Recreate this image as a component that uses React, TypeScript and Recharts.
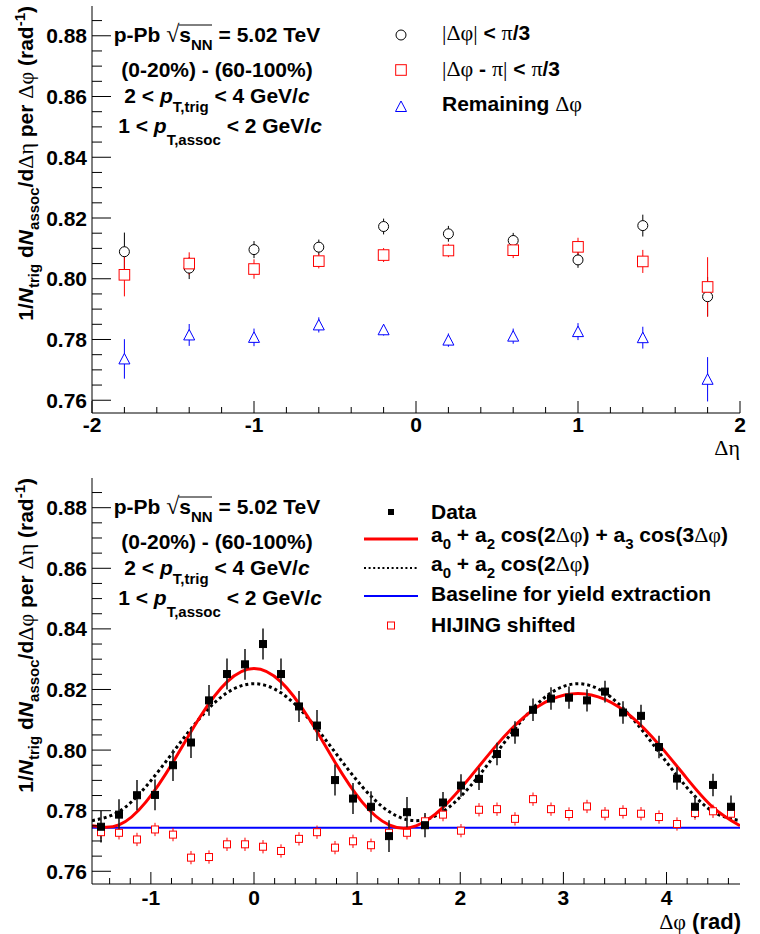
import React from 'react';
import { ComposedChart, Scatter, Line, XAxis, YAxis, ErrorBar, ReferenceLine } from 'recharts';

// ---------------- Top panel: per Δη bin ----------------
const etaCenters = [-1.8, -1.4, -1.0, -0.6, -0.2, 0.2, 0.6, 1.0, 1.4, 1.8];
const nearSideValues = [0.8089, 0.8035, 0.8096, 0.8104, 0.8172, 0.8148, 0.8126, 0.8062, 0.8175, 0.7941];
const nearSideErrors = [0.0063, 0.0036, 0.0028, 0.0025, 0.0026, 0.0026, 0.0025, 0.0026, 0.0036, 0.0065];
const awaySideValues = [0.8013, 0.805, 0.8032, 0.8058, 0.8078, 0.8093, 0.8094, 0.8105, 0.8057, 0.7973];
const awaySideErrors = [0.0071, 0.0037, 0.0032, 0.0024, 0.0023, 0.0022, 0.0026, 0.003, 0.0038, 0.0098];
const remainingValues = [0.7736, 0.7815, 0.7807, 0.7848, 0.7832, 0.7798, 0.7811, 0.7826, 0.7806, 0.7669];
const remainingErrors = [0.0065, 0.0036, 0.0029, 0.0025, 0.0019, 0.0022, 0.0025, 0.0028, 0.0036, 0.0073];

// ---------------- Bottom panel: per Δφ bin ----------------
const phiCenters = [
  -1.4835, -1.309, -1.1345, -0.9599, -0.7854, -0.6109, -0.4363, -0.2618, -0.0873, 0.0873, 0.2618, 0.4363,
  0.6109, 0.7854, 0.9599, 1.1345, 1.309, 1.4835, 1.6581, 1.8326, 2.0071, 2.1817, 2.3562, 2.5307,
  2.7053, 2.8798, 3.0543, 3.2289, 3.4034, 3.5779, 3.7525, 3.927, 4.1015, 4.2761, 4.4506, 4.6251,
];
const dataValues = [
  0.7747, 0.7787, 0.7851, 0.7852, 0.795, 0.8025, 0.8164, 0.8251, 0.8283, 0.835, 0.8251, 0.8144,
  0.8081, 0.7901, 0.784, 0.7813, 0.7716, 0.7795, 0.7752, 0.7827, 0.7883, 0.7905, 0.7987, 0.8058,
  0.8133, 0.817, 0.8173, 0.8164, 0.8193, 0.8124, 0.8113, 0.801, 0.7906, 0.7813, 0.7885, 0.7813,
];
const dataErrors = [
  0.0052, 0.0051, 0.005, 0.0051, 0.0052, 0.0051, 0.0051, 0.0051, 0.0051, 0.0051, 0.0051, 0.0051,
  0.0051, 0.0051, 0.0051, 0.0051, 0.0052, 0.005, 0.004, 0.0035, 0.0037, 0.0037, 0.0037, 0.0037,
  0.0037, 0.0037, 0.0037, 0.0037, 0.0036, 0.0037, 0.0037, 0.0037, 0.0037, 0.0037, 0.0037, 0.0037,
];
const hijingValues = [
  0.7729, 0.7727, 0.7705, 0.7738, 0.7721, 0.7645, 0.7647, 0.7689, 0.7689, 0.7681, 0.7667, 0.7707,
  0.7729, 0.7678, 0.7699, 0.7686, 0.7727, 0.7727, 0.7765, 0.7787, 0.7734, 0.7803, 0.7805, 0.7773,
  0.7838, 0.7805, 0.7789, 0.7814, 0.779, 0.7796, 0.779, 0.7779, 0.7756, 0.7792, 0.7798, 0.779,
];
const hijingErrors = [
  0.0022, 0.0022, 0.0022, 0.0022, 0.0022, 0.0022, 0.0022, 0.0022, 0.0022, 0.0022, 0.0022, 0.0022,
  0.0022, 0.0022, 0.0022, 0.0022, 0.0022, 0.0022, 0.0022, 0.0022, 0.0022, 0.0022, 0.0022, 0.0022,
  0.0022, 0.0022, 0.0022, 0.0022, 0.0022, 0.0022, 0.0022, 0.0022, 0.0022, 0.0022, 0.0022, 0.0022,
];

// fit curves
const fitPhi = [
  -1.5708, -1.309, -1.0472, -0.7854, -0.5236, -0.2618, 0, 0.2618, 0.5236, 0.7854, 1.0472, 1.309, 1.5708,
  1.8326, 2.0944, 2.3562, 2.618, 2.8798, 3.1416, 3.4034, 3.6652, 3.927, 4.1888, 4.4506, 4.7124,
];
const fitFullValues = [
  0.775, 0.7753, 0.7829, 0.796, 0.8109, 0.8225, 0.8269, 0.8225, 0.8109, 0.796, 0.7829, 0.7753, 0.775,
  0.7811, 0.791, 0.8018, 0.8109, 0.8167, 0.8187, 0.8167, 0.8109, 0.8018, 0.791, 0.7811, 0.775,
];
const fitCos2Values = [
  0.7767, 0.7797, 0.788, 0.7993, 0.8106, 0.8189, 0.8219, 0.8189, 0.8106, 0.7993, 0.788, 0.7797, 0.7767,
  0.7797, 0.788, 0.7993, 0.8106, 0.8189, 0.8219, 0.8189, 0.8106, 0.7993, 0.788, 0.7797, 0.7767,
];
const baselineLevel = 0.7744;

// ---------------- Axes ----------------
const etaTicks = [-2, -1.8, -1.6, -1.4, -1.2, -1, -0.8, -0.6, -0.4, -0.2, 0, 0.2, 0.4, 0.6, 0.8, 1, 1.2, 1.4, 1.6, 1.8, 2];
const etaTickLabels = [-2, -1, 0, 1, 2];
const phiTicks = [
  -1.4, -1.2, -1, -0.8, -0.6, -0.4, -0.2, 0, 0.2, 0.4, 0.6, 0.8, 1, 1.2, 1.4, 1.6, 1.8, 2, 2.2, 2.4,
  2.6, 2.8, 3, 3.2, 3.4, 3.6, 3.8, 4, 4.2, 4.4, 4.6,
];
const phiTickLabels = [-1, 0, 1, 2, 3, 4];
const yTicks = [
  0.76, 0.765, 0.77, 0.775, 0.78, 0.785, 0.79, 0.795, 0.8, 0.805, 0.81, 0.815, 0.82, 0.825, 0.83, 0.835,
  0.84, 0.845, 0.85, 0.855, 0.86, 0.865, 0.87, 0.875, 0.88, 0.885,
];
const yTickLabels = [0.76, 0.78, 0.8, 0.82, 0.84, 0.86, 0.88];
const yDomain: [number, number] = [0.7558, 0.8898];
const etaDomain: [number, number] = [-2, 2];
const phiDomain: [number, number] = [-1.5708, 4.7124];

const toPoints = (xs: number[], ys: number[], es?: number[]) =>
  xs.map((x, i) => ({ x, y: ys[i], e: es ? es[i] : 0 }));

const nearData = toPoints(etaCenters, nearSideValues, nearSideErrors);
const awayData = toPoints(etaCenters, awaySideValues, awaySideErrors);
const remData = toPoints(etaCenters, remainingValues, remainingErrors);
const phiData = toPoints(phiCenters, dataValues, dataErrors);
const hijingData = toPoints(phiCenters, hijingValues, hijingErrors);
const fitFullData = toPoints(fitPhi, fitFullValues);
const fitCos2Data = toPoints(fitPhi, fitCos2Values);

// ---------------- Styling ----------------
const SANS = "'Liberation Sans', Arial, Helvetica, sans-serif";
const SERIF = "'Liberation Serif', 'DejaVu Serif', serif";
const RED = '#ff0000';
const BLUE = '#0000ff';

const isMajor = (v: number, labels: number[]) => labels.some((l) => Math.abs(l - v) < 1e-6);

const makeXTick = (labels: number[], labelDy: number) => (props: any) => {
  const { x, y, payload } = props;
  const v = payload.value as number;
  const major = isMajor(v, labels);
  return (
    <g>
      <line x1={x} x2={x} y1={y} y2={y - (major ? 12 : 6)} stroke="#000" strokeWidth={1} />
      {major && (
        <text x={x} y={y + labelDy} textAnchor="middle" fontFamily={SANS} fontWeight={700} fontSize={21} fill="#000">
          {String(Math.round(v))}
        </text>
      )}
    </g>
  );
};

const YTick = (props: any) => {
  const { x, y, payload } = props;
  const v = payload.value as number;
  const major = isMajor(v, yTickLabels);
  return (
    <g>
      <line x1={x} x2={x + (major ? 19 : 10)} y1={y} y2={y} stroke="#000" strokeWidth={1} />
      {major && (
        <text x={x - 5} y={y + 7.5} textAnchor="end" fontFamily={SANS} fontWeight={700} fontSize={21} fill="#000">
          {v.toFixed(2)}
        </text>
      )}
    </g>
  );
};

const drawCircle = (cx: number, cy: number) => <circle cx={cx} cy={cy} r={5} fill="#fff" stroke="#000" strokeWidth={1} />;
const drawSquare = (cx: number, cy: number, h: number, color: string, fill: string) => (
  <rect x={cx - h} y={cy - h} width={2 * h} height={2 * h} fill={fill} stroke={color} strokeWidth={1} />
);
const drawTriangle = (cx: number, cy: number) => (
  <polygon points={`${cx},${cy - 5.5} ${cx - 5.5},${cy + 5} ${cx + 5.5},${cy + 5}`} fill="#fff" stroke={BLUE} strokeWidth={1} />
);

const CircleShape = (p: any) => drawCircle(p.cx, p.cy);
const AwaySquareShape = (p: any) => drawSquare(p.cx, p.cy, 5.3, RED, '#fff');
const TriangleShape = (p: any) => drawTriangle(p.cx, p.cy);
const DataShape = (p: any) => drawSquare(p.cx, p.cy, 3.5, '#000', '#000');
const HijingShape = (p: any) => drawSquare(p.cx, p.cy, 3.5, RED, '#fff');

const frameAxes = (xDomain: [number, number]) => [
  <XAxis key="xt" xAxisId="top" orientation="top" type="number" domain={xDomain} height={0} tick={false} tickLine={false} axisLine={{ stroke: '#000' }} allowDataOverflow />,
  <YAxis key="yr" yAxisId="right" orientation="right" type="number" domain={yDomain} width={0} tick={false} tickLine={false} axisLine={{ stroke: '#000' }} allowDataOverflow />,
];

const TopChart = () => (
  <ComposedChart width={760} height={467} margin={{ top: 6, right: 20, bottom: 24, left: 32 }}>
    <XAxis type="number" dataKey="x" domain={etaDomain} ticks={etaTicks} interval={0} tickSize={0} tickMargin={0}
      tickLine={false} tick={makeXTick(etaTickLabels, 19)} axisLine={{ stroke: '#000' }} height={30} allowDataOverflow />
    <YAxis type="number" dataKey="y" domain={yDomain} ticks={yTicks} interval={0} tickSize={0} tickMargin={0}
      tickLine={false} tick={YTick} axisLine={{ stroke: '#000' }} width={60} allowDataOverflow />
    {frameAxes(etaDomain)}
    <Scatter data={nearData} dataKey="y" shape={CircleShape} isAnimationActive={false}>
      <ErrorBar dataKey="e" direction="y" width={0} stroke="#000" strokeWidth={1} />
    </Scatter>
    <Scatter data={awayData} dataKey="y" shape={AwaySquareShape} isAnimationActive={false}>
      <ErrorBar dataKey="e" direction="y" width={0} stroke={RED} strokeWidth={1} />
    </Scatter>
    <Scatter data={remData} dataKey="y" shape={TriangleShape} isAnimationActive={false}>
      <ErrorBar dataKey="e" direction="y" width={0} stroke={BLUE} strokeWidth={1} />
    </Scatter>
  </ComposedChart>
);

const BottomChart = () => (
  <ComposedChart width={760} height={467} margin={{ top: 11, right: 20, bottom: 20, left: 32 }}>
    <XAxis type="number" dataKey="x" domain={phiDomain} ticks={phiTicks} interval={0} tickSize={0} tickMargin={0}
      tickLine={false} tick={makeXTick(phiTickLabels, 21)} axisLine={{ stroke: '#000' }} height={30} allowDataOverflow />
    <YAxis type="number" dataKey="y" domain={yDomain} ticks={yTicks} interval={0} tickSize={0} tickMargin={0}
      tickLine={false} tick={YTick} axisLine={{ stroke: '#000' }} width={60} allowDataOverflow />
    {frameAxes(phiDomain)}
    <ReferenceLine y={baselineLevel} stroke={BLUE} strokeWidth={2} />
    <Scatter data={hijingData} dataKey="y" shape={HijingShape} isAnimationActive={false}>
      <ErrorBar dataKey="e" direction="y" width={0} stroke={RED} strokeWidth={1} />
    </Scatter>
    <Line data={fitCos2Data} dataKey="y" type="natural" stroke="#000" strokeWidth={3} strokeDasharray="3 3" dot={false} activeDot={false} isAnimationActive={false} />
    <Line data={fitFullData} dataKey="y" type="natural" stroke={RED} strokeWidth={3} dot={false} activeDot={false} isAnimationActive={false} />
    <Scatter data={phiData} dataKey="y" shape={DataShape} isAnimationActive={false}>
      <ErrorBar dataKey="e" direction="y" width={0} stroke="#222" strokeWidth={1.6} />
    </Scatter>
  </ComposedChart>
);

const B = { fontFamily: SANS, fontWeight: 700, fontSize: 21, fill: '#000' } as const;
const g = (s: string, size = 22) => (
  <tspan fontFamily={SERIF} fontWeight={400} fontSize={size}>{s}</tspan>
);

const InfoBlock = ({ oy }: { oy: number }) => (
  <g>
    <text x={217} y={42 + oy} textAnchor="middle" {...B}>
      p-Pb <tspan fontFamily={SERIF} fontWeight={400} fontSize={24}>√</tspan>s<tspan dy={8} fontSize={15}>NN</tspan>
      <tspan dy={-8}> = 5.02 TeV</tspan>
    </text>
    <line x1={179} x2={212} y1={25 + oy} y2={25 + oy} stroke="#000" strokeWidth={1} />
    <text x={217} y={77 + oy} textAnchor="middle" {...B}>(0-20%) - (60-100%)</text>
    <text x={217} y={103 + oy} textAnchor="middle" {...B}>
      2 &lt; <tspan fontStyle="italic">p</tspan><tspan dy={9} fontSize={15}>T,trig</tspan>
      <tspan dy={-9}> &lt; 4 GeV/</tspan><tspan fontStyle="italic">c</tspan>
    </text>
    <text x={220} y={133 + oy} textAnchor="middle" {...B}>
      1 &lt; <tspan fontStyle="italic">p</tspan><tspan dy={12} fontSize={15}>T,assoc</tspan>
      <tspan dy={-12}> &lt; 2 GeV/</tspan><tspan fontStyle="italic">c</tspan>
    </text>
  </g>
);

const YTitle = ({ oy, first, second }: { oy: number; first: string; second: string }) => (
  <text transform={`translate(33,${6 + oy}) rotate(-90)`} textAnchor="end" {...B}>
    1/<tspan fontStyle="italic">N</tspan><tspan dy={6} fontSize={15}>trig</tspan>
    <tspan dy={-6}> d</tspan><tspan fontStyle="italic">N</tspan><tspan dy={6} fontSize={15}>assoc</tspan>
    <tspan dy={-6}>/d</tspan>{g(first)}<tspan> per </tspan>{g(second)}<tspan> (rad</tspan>
    <tspan dy={-8} fontSize={15}>-1</tspan><tspan dy={8}>)</tspan>
  </text>
);

const Overlay = () => (
  <svg width={760} height={934} style={{ position: 'absolute', left: 0, top: 0, pointerEvents: 'none' }}>
    {/* top panel */}
    <InfoBlock oy={0} />
    <YTitle oy={0} first="Δη" second="Δφ" />
    {drawCircle(401, 35)}
    {drawSquare(401, 70, 5.3, RED, '#fff')}
    {drawTriangle(401, 106.5)}
    <text x={442} y={40} {...B}>{g('|Δφ|')} &lt; {g('π')}/3</text>
    <text x={442} y={76} {...B}>{g('|Δφ')} - {g('π|')} &lt; {g('π')}/3</text>
    <text x={442} y={111} {...B}>Remaining {g('Δφ')}</text>
    <text x={740} y={455} textAnchor="end" fontFamily={SERIF} fontSize={22} fill="#000">Δη</text>

    {/* bottom panel */}
    <InfoBlock oy={472} />
    <YTitle oy={472} first="Δφ" second="Δη" />
    {drawSquare(391, 512, 2.5, '#000', '#000')}
    <line x1={364} x2={418} y1={539} y2={539} stroke={RED} strokeWidth={3} />
    <line x1={364} x2={418} y1={568} y2={568} stroke="#000" strokeWidth={2} strokeDasharray="2 2.6" />
    <line x1={364} x2={418} y1={596} y2={596} stroke={BLUE} strokeWidth={2} />
    {drawSquare(391, 625.5, 3.5, RED, '#fff')}
    <text x={431} y={518.5} {...B}>Data</text>
    <text x={431} y={541.5} {...B}>
      a<tspan dy={7} fontSize={15}>0</tspan><tspan dy={-7}> + a</tspan><tspan dy={7} fontSize={15}>2</tspan>
      <tspan dy={-7}> cos(2</tspan>{g('Δφ')}<tspan>) + a</tspan><tspan dy={7} fontSize={15}>3</tspan>
      <tspan dy={-7}> cos(3</tspan>{g('Δφ')}<tspan>)</tspan>
    </text>
    <text x={431} y={570.5} {...B}>
      a<tspan dy={7} fontSize={15}>0</tspan><tspan dy={-7}> + a</tspan><tspan dy={7} fontSize={15}>2</tspan>
      <tspan dy={-7}> cos(2</tspan>{g('Δφ')}<tspan>)</tspan>
    </text>
    <text x={431} y={601} {...B}>Baseline for yield extraction</text>
    <text x={431} y={632} {...B}>HIJING shifted</text>
    <text x={741} y={929} textAnchor="end" {...B} fontSize={22}>{g('Δφ', 22)} (rad)</text>
  </svg>
);

export default function App() {
  return (
    <div style={{ position: 'absolute', left: 0, top: 0, width: 760, height: 934, background: '#fff', overflow: 'hidden' }}>
      <div style={{ position: 'absolute', left: 0, top: 0 }}>
        <TopChart />
      </div>
      <div style={{ position: 'absolute', left: 0, top: 467 }}>
        <BottomChart />
      </div>
      <Overlay />
    </div>
  );
}
